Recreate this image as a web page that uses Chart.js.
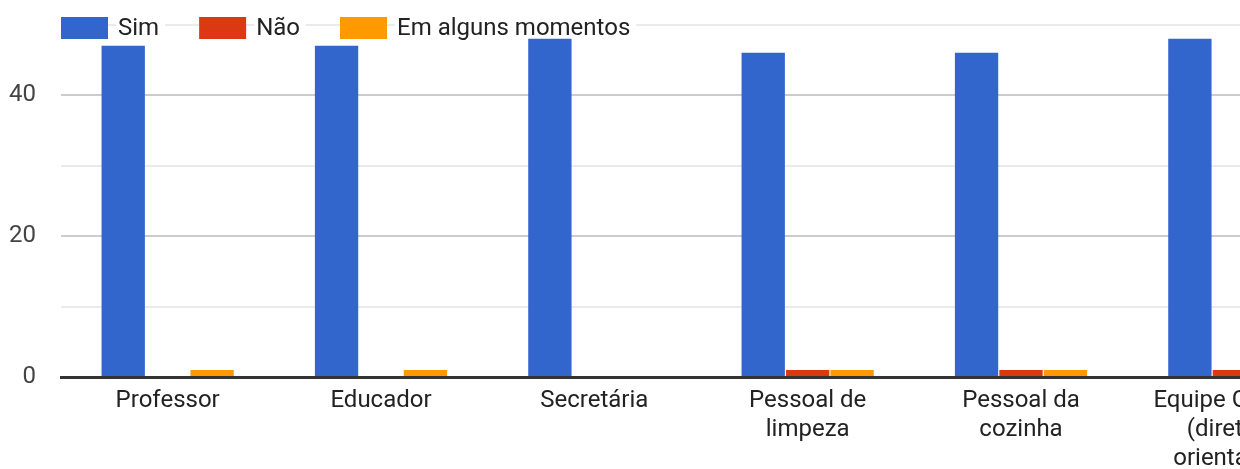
<!DOCTYPE html>
<html>
<head>
<meta charset="utf-8">
<script src="https://cdn.jsdelivr.net/npm/chart.js@4"></script>
<style>
  html, body { margin: 0; padding: 0; background: #fff; overflow: hidden; width: 1240px; height: 469px; }
  #wrap { width: 1345px; height: 469px; position: relative; }
</style>
</head>
<body>
<div id="wrap"><canvas id="chart"></canvas></div>
<script>
// categories and series
const categories = [
  "Professor",
  "Educador",
  "Secretária",
  ["Pessoal de", "limpeza"],
  ["Pessoal da", "cozinha"],
  ["Equipe Gestora", "(diretora,", "orientação)"]
];
const seriesNames = ["Sim", "Não", "Em alguns momentos"];
const sim = [47, 47, 48, 46, 46, 48];
const nao = [0, 0, 0, 1, 1, 1];
const emAlguns = [1, 1, 0, 1, 1, 0];
const yTickLabels = [0, 20, 40];
const colors = ["#3366cc", "#dc3912", "#ff9900"];

const FONT = "Roboto";

// legend drawn inside the plot, over the gridlines
const topLegend = {
  id: "topLegend",
  beforeDatasetsDraw(chart) {
    const ctx = chart.ctx;
    const area = chart.chartArea;
    ctx.save();
    ctx.font = "24px " + FONT;
    ctx.textBaseline = "middle";
    let x = area.left;
    const cy = 28;
    chart.data.datasets.forEach((ds) => {
      const w = ctx.measureText(ds.label).width;
      ctx.fillStyle = "#fff";
      ctx.fillRect(x + 47 + 8, cy - 14, w + 8, 28);
      ctx.fillStyle = ds.backgroundColor;
      ctx.fillRect(x, cy - 11, 47, 22);
      ctx.fillStyle = "#222";
      ctx.fillText(ds.label, x + 47 + 10, cy + 1);
      x += 47 + 10 + w + 40;
    });
    ctx.restore();
  }
};

const ctx = document.getElementById("chart").getContext("2d");
new Chart(ctx, {
  type: "bar",
  data: {
    labels: categories,
    datasets: [
      { label: seriesNames[0], data: sim, backgroundColor: colors[0] },
      { label: seriesNames[1], data: nao, backgroundColor: colors[1] },
      { label: seriesNames[2], data: emAlguns, backgroundColor: colors[2] }
    ]
  },
  options: {
    responsive: true,
    maintainAspectRatio: false,
    animation: false,
    barPercentage: 0.975,
    categoryPercentage: 0.625,
    layout: { padding: { left: 0, right: 4, top: 0, bottom: 0 } },
    plugins: {
      legend: { display: false },
      tooltip: { enabled: false }
    },
    scales: {
      x: {
        z: 1,
        grid: { display: false },
        border: { color: "#333333", width: 3 },
        ticks: {
          color: "#222222",
          font: { family: FONT, size: 24, lineHeight: 1.22 },
          padding: 1,
          maxRotation: 0,
          autoSkip: false
        },
        afterFit(scale) {
          scale.height = 92;
          scale.paddingLeft = 0;
          scale.paddingRight = 0;
        }
      },
      y: {
        min: 0,
        max: 53.5,
        grid: {
          drawTicks: false,
          lineWidth: 2,
          color: (c) => {
            const v = c.tick.value;
            if (v === 0) return "rgba(0,0,0,0)";
            return yTickLabels.includes(v) ? "#cccccc" : "#ebebeb";
          }
        },
        border: { display: false },
        ticks: {
          stepSize: 10,
          includeBounds: false,
          color: "#444444",
          font: { family: FONT, size: 24 },
          padding: 25,
          callback: (v) => (yTickLabels.includes(v) ? v : "")
        },
        afterFit(scale) {
          scale.width = 61;
          scale.paddingTop = 0;
          scale.paddingBottom = 0;
        }
      }
    }
  },
  plugins: [topLegend]
});
</script>
</body>
</html>
